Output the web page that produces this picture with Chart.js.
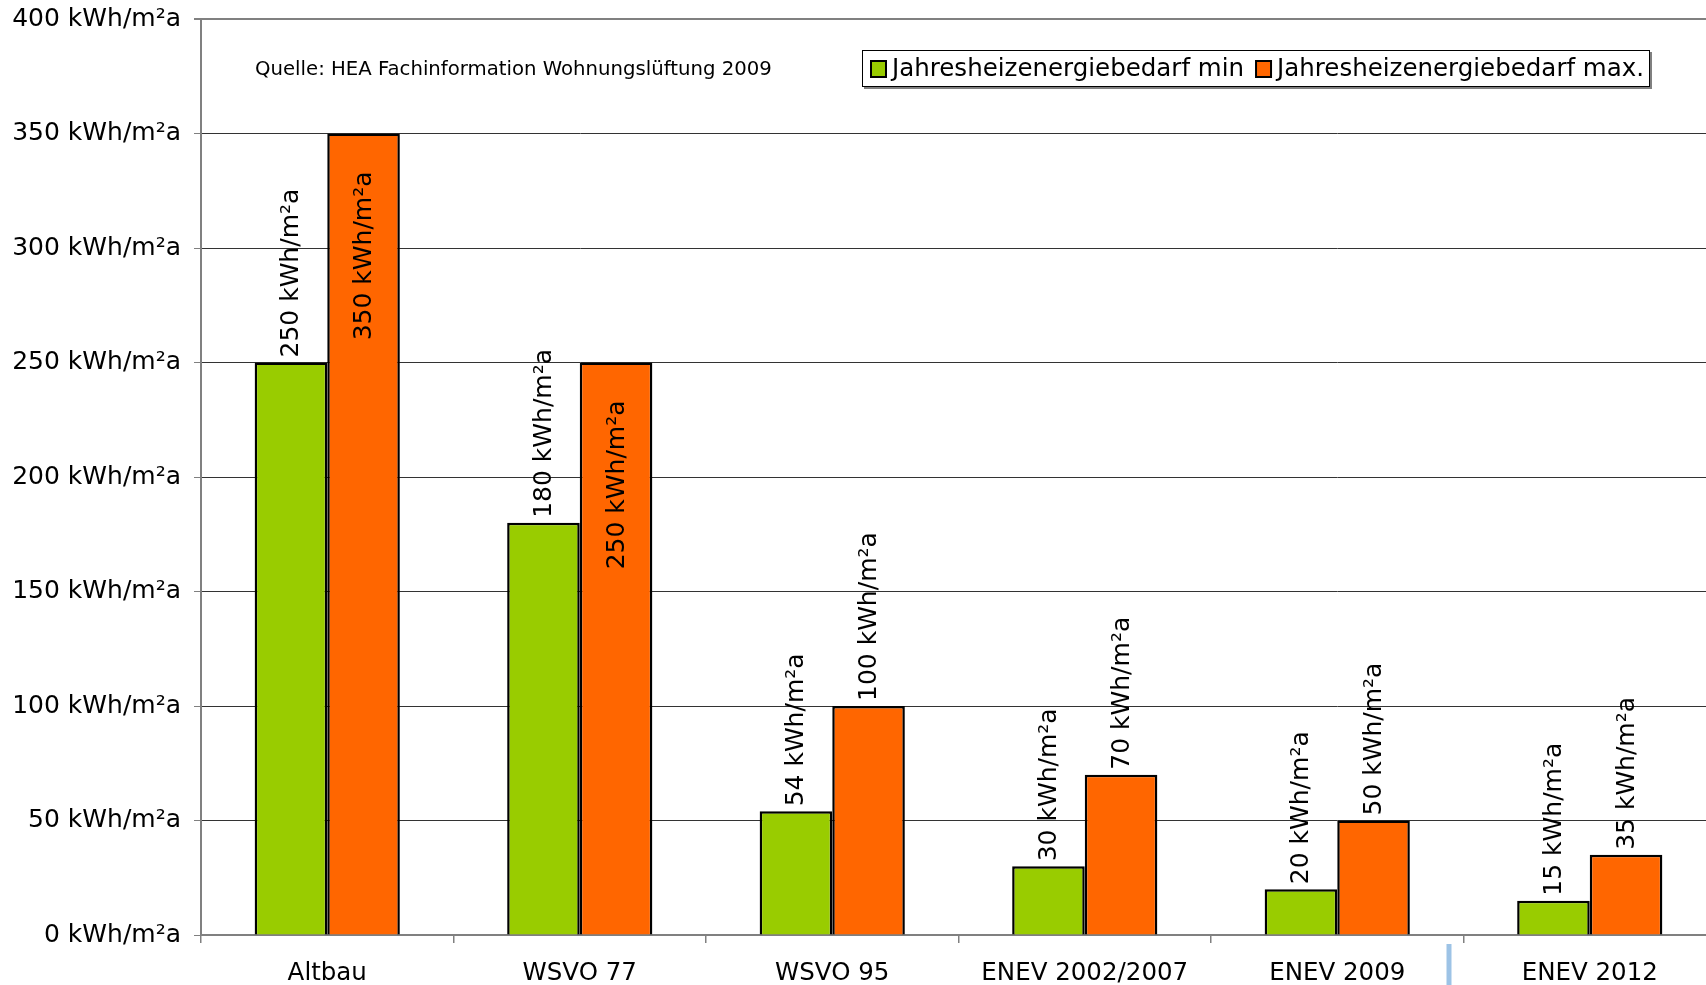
<!DOCTYPE html>
<html>
<head>
<meta charset="utf-8">
<script src="https://cdn.jsdelivr.net/npm/chart.js@4"></script>
<style>
  html, body { margin: 0; padding: 0; background: #fff; overflow: hidden; }
  #wrap { width: 1716px; height: 985px; position: relative; }
</style>
</head>
<body>
<div id="wrap"><canvas id="heatChart"></canvas></div>
<script>
    // Jahresheizenergiebedarf je Standard (kWh/m²a)
    const categories = ["Altbau", "WSVO 77", "WSVO 95", "ENEV 2002/2007", "ENEV 2009", "ENEV 2012"];
    const minValues = [250, 180, 54, 30, 20, 15];
    const maxValues = [350, 250, 100, 70, 50, 35];
    const seriesNames = ["Jahresheizenergiebedarf min", "Jahresheizenergiebedarf max."];
    const unit = " kWh/m²a";
    const sourceNote = "Quelle: HEA Fachinformation Wohnungslüftung 2009";

    const FONT = "'DejaVu Sans', Verdana, sans-serif";

    // Werte an die Balken schreiben (senkrecht)
    const valueLabels = {
        id: 'valueLabels',
        afterDatasetsDraw(chart) {
            const ctx = chart.ctx;
            ctx.save();
            ctx.font = '25px ' + FONT;
            ctx.fillStyle = '#000';
            ctx.textBaseline = 'middle';
            chart.data.datasets.forEach((ds, di) => {
                const meta = chart.getDatasetMeta(di);
                meta.data.forEach((bar, i) => {
                    const v = ds.data[i];
                    const inside = di === 1 && v >= 250;
                    ctx.save();
                    if (inside) {
                        ctx.translate(bar.x + 1, bar.y + 38);
                        ctx.rotate(-Math.PI / 2);
                        ctx.textAlign = 'right';
                    } else {
                        ctx.translate(bar.x + 1, bar.y - 5);
                        ctx.rotate(-Math.PI / 2);
                        ctx.textAlign = 'left';
                    }
                    ctx.fillText(v + unit, 0, 0);
                    ctx.restore();
                });
            });
            ctx.restore();
        }
    };

    // Legende im Diagramm + Quellenangabe + blaue Markierung
    const extras = {
        id: 'extras',
        afterDraw(chart) {
            const ctx = chart.ctx;
            const area = chart.chartArea;
            ctx.save();
            // Quelle
            ctx.font = '19.7px ' + FONT;
            ctx.fillStyle = '#000';
            ctx.textBaseline = 'middle';
            ctx.textAlign = 'left';
            ctx.fillText(sourceNote, area.left + 54, area.top + 51);

            // Legende
            const lx = area.left + 661, ly = area.top + 31, lw = 788, lh = 37;
            ctx.fillStyle = '#808080';
            ctx.fillRect(lx + 2, ly + 2, lw, lh);
            ctx.fillStyle = '#fff';
            ctx.fillRect(lx, ly, lw, lh);
            ctx.strokeStyle = '#000';
            ctx.lineWidth = 1;
            ctx.strokeRect(lx + 0.5, ly + 0.5, lw - 1, lh - 1);
            ctx.font = '24.5px ' + FONT;
            let x = lx + 9;
            chart.data.datasets.forEach(ds => {
                ctx.fillStyle = ds.backgroundColor;
                ctx.fillRect(x, ly + 11, 15, 16);
                ctx.strokeStyle = '#000';
                ctx.lineWidth = 2;
                ctx.strokeRect(x, ly + 11, 15, 16);
                ctx.fillStyle = '#000';
                ctx.fillText(ds.label, x + 21, ly + lh / 2 + 1);
                x += 21 + ctx.measureText(ds.label).width + 12;
            });

            // blaue Linie unter der Achse
            const xs = chart.scales.x;
            const bx = (xs.getPixelForValue(4) + xs.getPixelForValue(5)) / 2 - 15;
            ctx.fillStyle = '#9DC3E6';
            ctx.fillRect(bx - 2, area.bottom + 9, 5, chart.height - area.bottom);
            ctx.restore();
        }
    };

    const ctx = document.getElementById('heatChart').getContext('2d');
    new Chart(ctx, {
        type: 'bar',
        data: {
            labels: categories,
            datasets: [{
                label: seriesNames[0],
                data: minValues,
                backgroundColor: '#99CC00',
                borderColor: '#000',
                borderWidth: 2.5,
                borderSkipped: 'bottom'
            }, {
                label: seriesNames[1],
                data: maxValues,
                backgroundColor: '#FF6600',
                borderColor: '#000',
                borderWidth: 2.5,
                borderSkipped: 'bottom'
            }]
        },
        options: {
            responsive: true,
            maintainAspectRatio: false,
            animation: false,
            layout: { padding: { top: 19, left: 0, right: 0, bottom: 0 } },
            datasets: { bar: { barPercentage: 1, categoryPercentage: 0.575 } },
            plugins: {
                legend: { display: false },
                tooltip: { enabled: false }
            },
            scales: {
                x: {
                    afterFit(s) { s.height = 50; },
                    grid: {
                        offset: true,
                        drawOnChartArea: false,
                        tickLength: 8,
                        color: '#808080',
                        lineWidth: 1.5
                    },
                    border: { color: '#808080', width: 2 },
                    ticks: {
                        font: { family: FONT, size: 24.5 },
                        color: '#000',
                        padding: 16
                    }
                },
                y: {
                    min: 0,
                    max: 400,
                    afterFit(s) {
                        s.width = 201;
                        s.paddingTop = 0;
                        s.paddingBottom = 0;
                    },
                    ticks: {
                        stepSize: 50,
                        font: { family: FONT, size: 25 },
                        color: '#000',
                        padding: 13,
                        callback: v => v + unit
                    },
                    grid: {
                        color: c => c.tick && c.tick.value === 400 ? '#808080' : '#333333',
                        lineWidth: c => c.tick && c.tick.value === 400 ? 2 : 1,
                        tickColor: '#808080',
                        tickLength: 7
                    },
                    border: { color: '#808080', width: 2 }
                }
            }
        },
        plugins: [valueLabels, extras]
    });
</script>
</body>
</html>
